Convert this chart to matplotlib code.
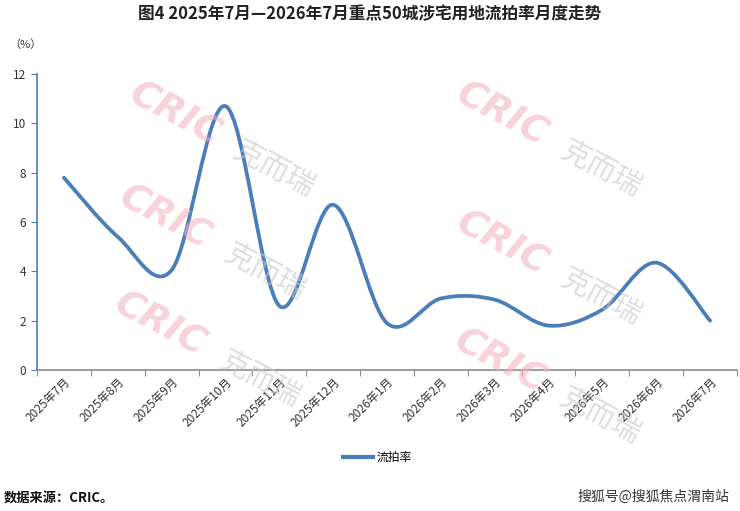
import matplotlib
matplotlib.use("Agg")
import matplotlib.pyplot as plt
from matplotlib.path import Path
from matplotlib.patches import PathPatch
from matplotlib.lines import Line2D

plt.rcParams['font.family'] = ['Noto Sans CJK SC', 'DejaVu Sans']

months = ["2025年7月", "2025年8月", "2025年9月", "2025年10月", "2025年11月", "2025年12月",
          "2026年1月", "2026年2月", "2026年3月", "2026年4月", "2026年5月", "2026年6月", "2026年7月"]
rate = [7.8, 5.4, 4.05, 10.7, 2.6, 6.7, 1.9, 2.9, 2.85, 1.8, 2.45, 4.35, 2.0]
yticks = [0, 2, 4, 6, 8, 10, 12]

line_color = "#4A7EBB"

fig = plt.figure(figsize=(7.4, 5.11), dpi=100)
ax = fig.add_axes([0.05, 0.276, 0.946, 0.579])

xs = list(range(len(rate)))
# Excel-style smoothed line: cubic Bezier through points (Catmull-Rom)
verts = [(xs[0], rate[0])]
codes = [Path.MOVETO]
n = len(rate)
for i in range(n - 1):
    p0 = (xs[i - 1], rate[i - 1]) if i > 0 else (xs[i], rate[i])
    p1 = (xs[i], rate[i])
    p2 = (xs[i + 1], rate[i + 1])
    p3 = (xs[i + 2], rate[i + 2]) if i + 2 < n else p2
    c1 = (p1[0] + (p2[0] - p0[0]) / 6, p1[1] + (p2[1] - p0[1]) / 6)
    c2 = (p2[0] - (p3[0] - p1[0]) / 6, p2[1] - (p3[1] - p1[1]) / 6)
    verts += [c1, c2, p2]
    codes += [Path.CURVE4] * 3
ax.add_patch(PathPatch(Path(verts, codes), facecolor="none", edgecolor=line_color,
                       lw=2.7, capstyle="round", joinstyle="round", zorder=3))

ax.set_xlim(-0.5, n - 0.5)
ax.set_ylim(0, 12)
ax.set_yticks(yticks)
ax.set_yticklabels([str(v) for v in yticks], fontsize=8.5, color="#333333")
ax.set_xticks([i - 0.5 for i in range(n + 1)], minor=False)
ax.set_xticklabels([""] * (n + 1))
ax.set_xticks(xs, minor=True)
ax.set_xticklabels(months, minor=True, rotation=45, ha="right", va="top",
                   fontsize=8.5, color="#333333", rotation_mode="anchor")
ax.tick_params(axis="x", which="minor", length=0, pad=4)
ax.tick_params(axis="x", which="major", length=4, color="#8c8c8c", direction="out")
ax.tick_params(axis="y", length=4, color=line_color, direction="out", pad=4)
for s in ["top", "right"]:
    ax.spines[s].set_visible(False)
ax.spines["left"].set_color(line_color)
ax.spines["bottom"].set_color("#8c8c8c")
ax.spines["left"].set_linewidth(1.2)
ax.spines["bottom"].set_linewidth(1.2)

# watermarks
wm = [(0.236, 0.775), (0.678, 0.775), (0.223, 0.573), (0.678, 0.524), (0.216, 0.364), (0.676, 0.292)]
for (wx, wy) in wm:
    fig.text(wx, wy, "CRIC", fontsize=27, fontweight="heavy", fontstyle="italic",
             family="DejaVu Sans", color="#f2aebd", alpha=0.55, rotation=-28,
             ha="center", va="center", zorder=0)
    fig.text(wx + 0.135, wy - 0.106, "克而瑞", fontsize=21, color="#c8c8c8", alpha=0.6,
             rotation=-28, ha="center", va="center", zorder=0)

fig.text(0.5, 0.972, "图4 2025年7月—2026年7月重点50城涉宅用地流拍率月度走势",
         fontsize=12, fontweight="bold", ha="center", va="center", color="#222222")
fig.text(0.012, 0.912, "（%）", fontsize=8, ha="left", va="center", color="#333333")

handle = Line2D([0], [0], color=line_color, lw=3)
fig.legend([handle], ["流拍率"], loc="center", bbox_to_anchor=(0.51, 0.105),
           frameon=False, fontsize=8.5, handlelength=2.5, handletextpad=0.3)

fig.text(0.005, 0.027, "数据来源：CRIC。", fontsize=9.5, fontweight="bold",
         ha="left", va="center", color="#111111")
fig.text(0.985, 0.027, "搜狐号@搜狐焦点渭南站", fontsize=10, ha="right", va="center",
         color="#333333")

fig.savefig("out.png", dpi=100)
